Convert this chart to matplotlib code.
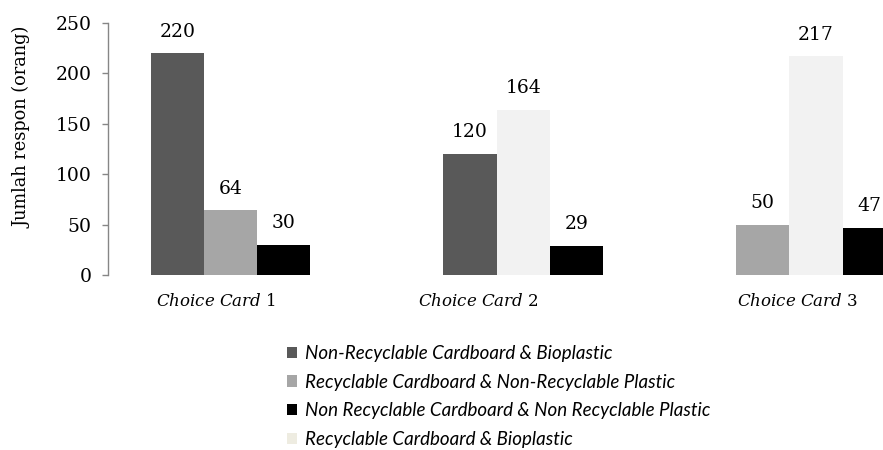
import numpy as np
import matplotlib
matplotlib.use("Agg")
import matplotlib.pyplot as plt
from matplotlib.patches import Patch

plt.rcParams['font.family'] = ['DejaVu Serif']
plt.rcParams['mathtext.fontset'] = 'custom'
plt.rcParams['mathtext.it'] = 'DejaVu Serif:italic'
plt.rcParams['mathtext.rm'] = 'DejaVu Serif'

# data (None = no bar in that group)
categories = ["1", "2", "3"]
non_rec_bio = [220, 120, None]
rec_nonrec_plastic = [64, None, 50]
nonrec_nonrec = [30, 29, 47]
rec_bio = [None, 164, 217]

names = ["Non-Recyclable Cardboard & Bioplastic",
         "Recyclable Cardboard & Non-Recyclable Plastic",
         "Non Recyclable Cardboard & Non Recyclable Plastic",
         "Recyclable Cardboard & Bioplastic"]
series = [non_rec_bio, rec_nonrec_plastic, nonrec_nonrec, rec_bio]
bar_colors = ["#595959", "#A6A6A6", "#000000", "#F2F2F2"]
legend_colors = ["#595959", "#A6A6A6", "#000000", "#EEECE1"]

# order of the bars inside each group
slot_order = [0, 1, 3, 2]

fig = plt.figure(figsize=(8.83, 4.5), dpi=100)
ax = fig.add_axes([108 / 883, 175 / 450, 775 / 883, 252 / 450])

group_step = 5.5
centers = np.arange(len(categories)) * group_step
for i, c in enumerate(centers):
    present = [s for s in slot_order if series[s][i] is not None]
    n = len(present)
    for k, s in enumerate(present):
        x = c + k - (n - 1) / 2
        v = series[s][i]
        ax.bar(x, v, width=1.0, color=bar_colors[s], clip_on=True)
        ax.annotate(str(v), (x, v), xytext=(0, 12), textcoords='offset points',
                    ha='center', va='baseline', fontsize=13.5, color='black')

ax.set_xlim(-2.30, 12.26)
ax.set_ylim(0, 250)
ax.set_yticks(np.arange(0, 251, 50))
ax.tick_params(axis='y', length=4, width=1, color='#868686', pad=8, labelsize=13.5)

label_shift = [-0.28, -0.85, -0.35]
ax.set_xticks(centers + np.array(label_shift))
ax.set_xticklabels([r"$\mathit{Choice\ Card}$ " + c for c in categories], fontsize=12)
ax.tick_params(axis='x', length=0, pad=13)

for side in ['top', 'right', 'bottom']:
    ax.spines[side].set_visible(False)
ax.spines['left'].set_color('#868686')
ax.spines['left'].set_linewidth(1)

fig.text(22 / 883, 1 - 127 / 450, "Jumlah respon (orang)", rotation=90,
         ha='center', va='center', fontsize=12.8)

handles = [Patch(facecolor=legend_colors[s], edgecolor='none') for s in range(4)]
fig.legend(handles, names, loc='upper left', bbox_to_anchor=(287 / 883, 1 - 345 / 450),
           frameon=False, handlelength=0.55, handleheight=0.55, handletextpad=0.4,
           labelspacing=0.62, borderpad=0, borderaxespad=0,
           prop={'family': 'Lato', 'style': 'italic', 'size': 13.5})

fig.savefig("out.png", dpi=100)
